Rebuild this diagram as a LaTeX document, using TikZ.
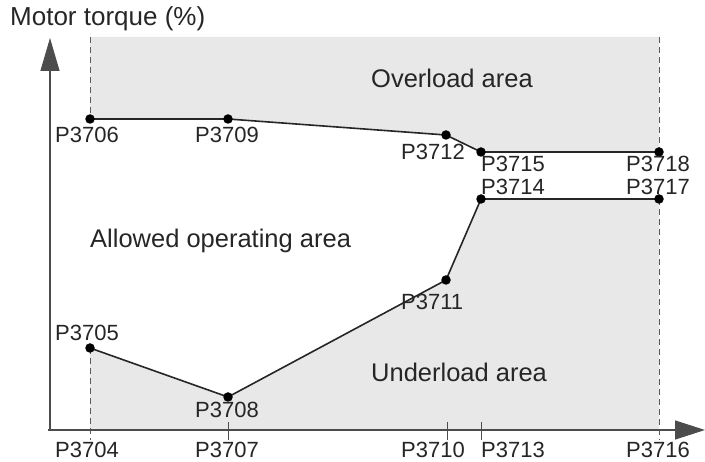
\documentclass[tikz,border=0pt]{standalone}
\usepackage{fontspec}
\setmainfont{Liberation Sans}
\usetikzlibrary{arrows.meta}
\definecolor{areagrey}{RGB}{232,232,232}
\definecolor{dashgrey}{RGB}{90,90,90}
\begin{document}
\begin{tikzpicture}[x=1pt,y=-1pt,
  lbl/.style={anchor=base west,inner sep=0pt,font=\fontsize{22}{26}\selectfont,text=black!85},
  arealbl/.style={anchor=base west,inner sep=0pt,font=\fontsize{25.5}{30}\selectfont,text=black!85},
  curve/.style={line width=1.6pt,black!85},
  axis/.style={line width=1.3pt,black!70},
  dashline/.style={dashed,dash pattern=on 6pt off 4pt,line width=0.8pt,dashgrey},
  tick/.style={line width=1pt,black!70},
  dot/.style={circle,fill=black,inner sep=0pt,minimum size=9.5pt}]
\useasboundingbox (0,0) rectangle (705,462);
% key points
\coordinate (p06) at (90,119);
\coordinate (p09) at (228,119);
\coordinate (p12) at (446,135);
\coordinate (p15) at (481,152);
\coordinate (p18) at (659,152);
\coordinate (p14) at (481,199);
\coordinate (p17) at (659,199);
\coordinate (p11) at (446,280);
\coordinate (p05) at (90,348);
\coordinate (p08) at (228,397);
\coordinate (tl) at (90,37);
\coordinate (tr) at (659,37);
\coordinate (bl) at (90,430);
\coordinate (br) at (659,430);
% areas
\fill[areagrey] (tl) -- (tr) -- (p18) -- (p15) -- (p12) -- (p09) -- (p06) -- cycle;
\fill[areagrey] (p05) -- (p08) -- (p11) -- (p14) -- (p17) -- (br) -- (bl) -- cycle;
% dashed edges
\coordinate (d04) at (90,440);
\coordinate (d16) at (659,440);
\draw[dashline] (tl) -- (p06);
\draw[dashline] (tr) -- (p18);
\draw[dashline] (p05) -- (d04);
\draw[dashline] (p17) -- (d16);
% axes
\coordinate (o) at (50,430);
\coordinate (ox) at (48,430);
\coordinate (xend) at (705,430);
\coordinate (yend) at (50,38);
\draw[axis,-{Triangle[length=30pt,width=19pt]}] (ox) -- (xend);
\draw[axis,-{Triangle[length=33pt,width=19pt]}] (o) -- (yend);
% ticks
\coordinate (t07a) at (228,422); \coordinate (t07b) at (228,440);
\coordinate (t10a) at (447,422); \coordinate (t10b) at (447,440);
\coordinate (t13a) at (481,422); \coordinate (t13b) at (481,440);
\draw[tick] (t07a) -- (t07b);
\draw[tick] (t10a) -- (t10b);
\draw[tick] (t13a) -- (t13b);
% curves
\draw[curve] (p06) -- (p09) -- (p12) -- (p15) -- (p18);
\draw[curve] (p05) -- (p08) -- (p11) -- (p14) -- (p17);
\foreach \p in {p06,p09,p12,p15,p18,p14,p17,p11,p05,p08}
  \node[dot] at (\p) {};
% labels
\node[anchor=base west,inner sep=0pt,font=\fontsize{26}{30}\selectfont,text=black!85] (title) at (10,26) {Motor torque (\%)};
\node[arealbl] (over) at (371,88) {Overload area};
\node[arealbl] (allow) at (90,248) {Allowed operating area};
\node[arealbl] (under) at (371,382) {Underload area};
\node[lbl] (l06) at (55,143) {P3706};
\node[lbl] (l09) at (195,143) {P3709};
\node[lbl] (l12) at (401,160) {P3712};
\node[lbl] (l15) at (481,172) {P3715};
\node[lbl] (l18) at (626,172) {P3718};
\node[lbl] (l14) at (481,195) {P3714};
\node[lbl] (l17) at (626,195) {P3717};
\node[lbl] (l11) at (401,310) {P3711};
\node[lbl] (l05) at (55,341) {P3705};
\node[lbl] (l08) at (195,418) {P3708};
\node[lbl] (l04) at (55,458) {P3704};
\node[lbl] (l07) at (195,458) {P3707};
\node[lbl] (l10) at (401,458) {P3710};
\node[lbl] (l13) at (481,458) {P3713};
\node[lbl] (l16) at (626,458) {P3716};
\end{tikzpicture}
\end{document}
